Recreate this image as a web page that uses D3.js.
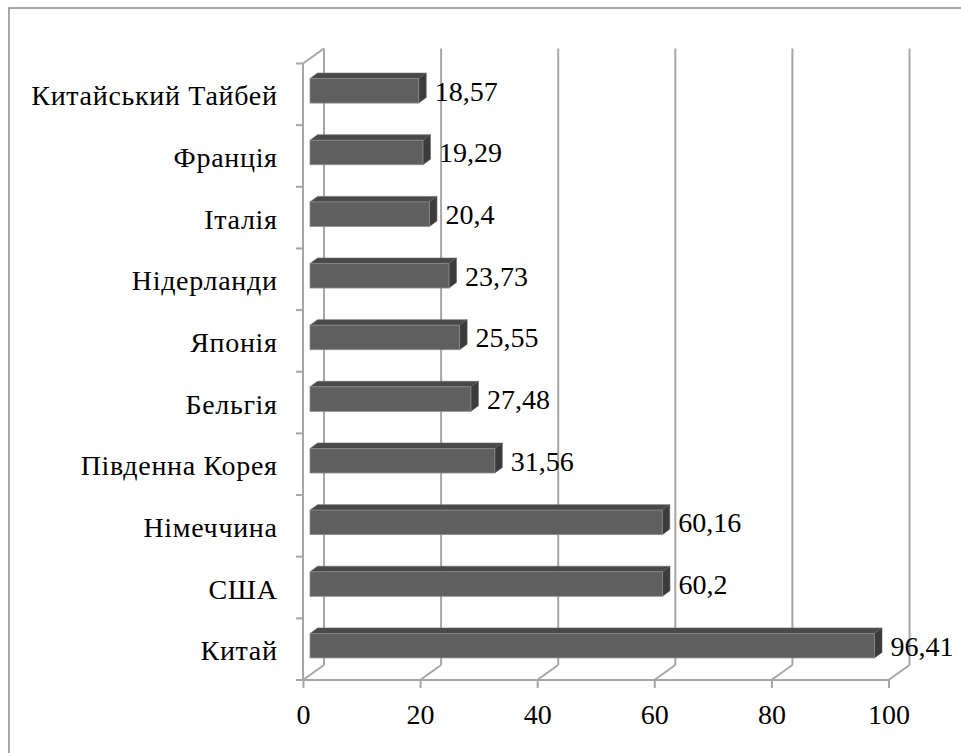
<!DOCTYPE html>
<html>
<head>
<meta charset="utf-8">
<script src="https://cdn.jsdelivr.net/npm/d3@7"></script>
</head>
<body style="margin:0">
<svg id="chart" width="961" height="753" font-family="Liberation Serif"></svg>
<script>
const categories = ["Китайський Тайбей", "Франція", "Італія", "Нідерланди", "Японія", "Бельгія", "Південна Корея", "Німеччина", "США", "Китай"];
const values = [18.57, 19.29, 20.4, 23.73, 25.55, 27.48, 31.56, 60.16, 60.2, 96.41];
const valueLabels = ["18,57", "19,29", "20,4", "23,73", "25,55", "27,48", "31,56", "60,16", "60,2", "96,41"];
const xTicks = [0, 20, 40, 60, 80, 100];

const svg = d3.select("#chart");
const W = 961, H = 753;

function serif(sel) {
  return sel.attr("font-family", "Liberation Serif")
    .style("font-family", '"Liberation Serif"')
    .style("font-size", "28px")
    .attr("fill", "#000");
}

svg.append("path")
  .attr("d", `M9,${H} L9,8 L${W},8`)
  .attr("fill", "none").attr("stroke", "#8c8c8c").attr("stroke-width", 1.5);

const x0 = 303, x1 = 888.5, yTop = 63.5, yBot = 680;
const dX = 21, dY = -15;
const x = d3.scaleLinear().domain([0, 100]).range([x0, x1]);
const y = d3.scaleBand().domain(categories).range([yTop, yBot]).paddingInner(0).paddingOuter(0);

const gridColor = "#a6a6a6";

xTicks.forEach(t => {
  svg.append("line")
    .attr("x1", x(t) + dX).attr("x2", x(t) + dX)
    .attr("y1", yTop + dY).attr("y2", yBot + dY)
    .attr("stroke", gridColor).attr("stroke-width", 2);
  svg.append("line")
    .attr("x1", x(t)).attr("y1", yBot)
    .attr("x2", x(t) + dX).attr("y2", yBot + dY)
    .attr("stroke", gridColor).attr("stroke-width", 2);
});

svg.append("line")
  .attr("x1", x0).attr("y1", yTop).attr("x2", x0 + dX).attr("y2", yTop + dY)
  .attr("stroke", gridColor).attr("stroke-width", 2);
svg.append("line")
  .attr("x1", x0).attr("x2", x0).attr("y1", yTop).attr("y2", yBot)
  .attr("stroke", gridColor).attr("stroke-width", 2);

const xAxis = d3.axisBottom(x).tickValues(xTicks).tickSize(8).tickPadding(14).tickFormat(d3.format("d"));
const xa = svg.append("g").attr("transform", `translate(0,${yBot})`).call(xAxis);
xa.attr("font-family", "Liberation Serif").attr("font-size", 28);
xa.select(".domain").attr("stroke", gridColor).attr("stroke-width", 2).attr("d", `M${x0},0H${x1}`);
xa.selectAll(".tick line").attr("stroke", gridColor).attr("stroke-width", 2);
serif(xa.selectAll(".tick text")).attr("dy", null).attr("y", 44);

const bounds = categories.map(c => y(c)).concat([yBot]);
bounds.forEach(b => {
  svg.append("line")
    .attr("x1", x0 - 7).attr("x2", x0).attr("y1", b).attr("y2", b)
    .attr("stroke", gridColor).attr("stroke-width", 2);
});

categories.forEach(c => {
  serif(svg.append("text"))
    .attr("x", 277.7)
    .attr("y", y(c) + y.bandwidth() / 2 + 11)
    .attr("text-anchor", "end")
    .style("letter-spacing", "0.7px")
    .text(c);
});

const bOffX = 7, bOffY = -3.5;
const bdX = 7.5, bdY = -5.5;
const barH = 24.5;
categories.forEach((c, i) => {
  const v = values[i];
  const cy = y(c) + y.bandwidth() / 2 + bOffY;
  const fx0 = x(0) + bOffX, fx1 = x(v) + bOffX;
  const fy0 = cy - barH / 2, fy1 = cy + barH / 2;
  svg.append("path")
    .attr("d", `M${fx0},${fy0} L${fx0 + bdX},${fy0 + bdY} L${fx1 + bdX},${fy0 + bdY} L${fx1},${fy0} Z`)
    .attr("fill", "#494949").attr("stroke", "#6a6a6a").attr("stroke-width", 0.6);
  svg.append("path")
    .attr("d", `M${fx1},${fy0} L${fx1 + bdX},${fy0 + bdY} L${fx1 + bdX},${fy1 + bdY} L${fx1},${fy1} Z`)
    .attr("fill", "#3b3b3b").attr("stroke", "#5a5a5a").attr("stroke-width", 0.6);
  svg.append("rect")
    .attr("x", fx0).attr("y", fy0).attr("width", fx1 - fx0).attr("height", barH)
    .attr("fill", "#5f5f5f").attr("stroke", "#8a8a8a").attr("stroke-width", 0.8);
  serif(svg.append("text"))
    .attr("x", fx1 + bdX + 8.5)
    .attr("y", cy + 10)
    .text(valueLabels[i]);
});
</script>
</body>
</html>
